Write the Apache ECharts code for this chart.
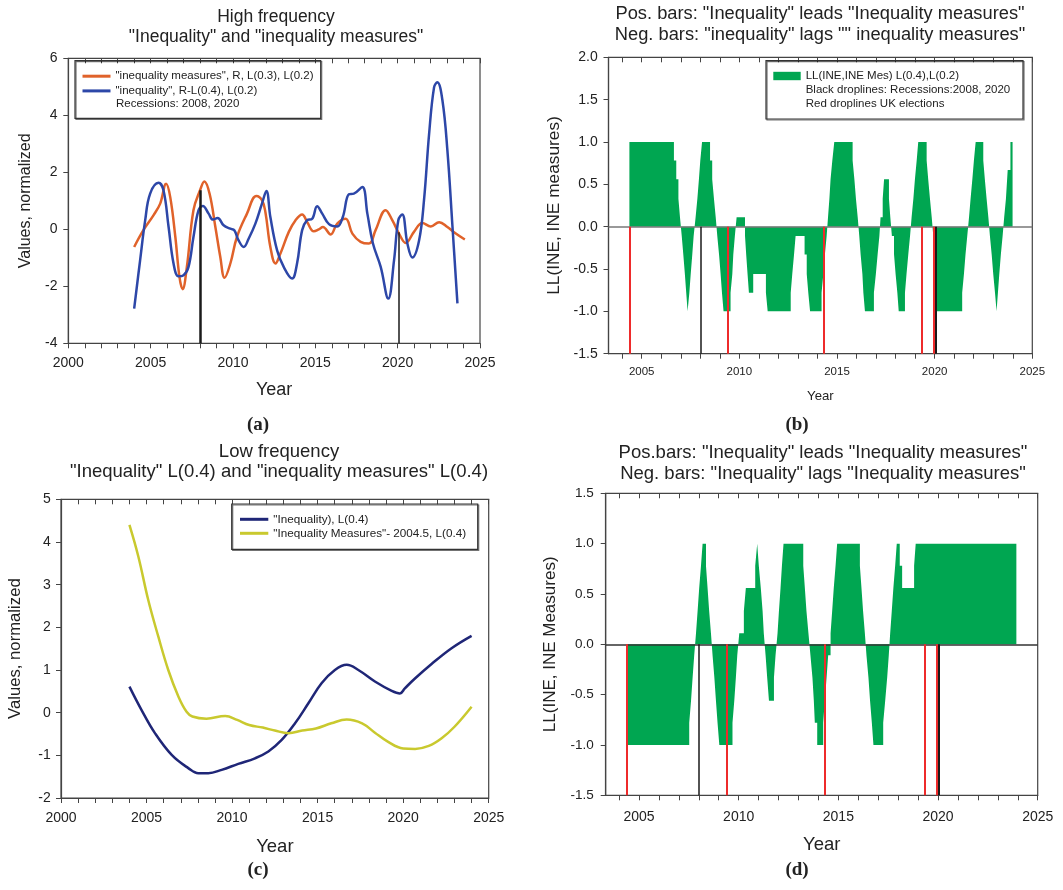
<!DOCTYPE html>
<html>
<head>
<meta charset="utf-8">
<script src="https://cdn.jsdelivr.net/npm/echarts@6/dist/echarts.min.js"></script>
<style>
  html, body { margin: 0; padding: 0; background: #fff; }
  #chart { width: 1063px; height: 890px; }
</style>
</head>
<body>
<div id="chart"></div>
<script>
// ---------------- data ----------------
// (a) high-frequency components, [year, normalized value]
const hfMeasures = [
  [2004.0, -0.62], [2004.56, -0.03], [2005.17, 0.49], [2005.58, 0.9], [2005.94, 1.6],
  [2006.19, 1.13], [2006.5, -0.27], [2006.75, -1.67], [2006.94, -2.1], [2007.2, -1.32],
  [2007.6, 0.67], [2008.0, 1.37], [2008.26, 1.68], [2008.58, 1.25], [2008.93, 0.08],
  [2009.23, -0.97], [2009.49, -1.7], [2009.84, -1.2], [2010.24, -0.27], [2010.85, 0.55],
  [2011.42, 1.17], [2011.76, 1.02], [2011.97, 0.6], [2012.27, -0.62], [2012.58, -1.2],
  [2012.88, -0.85], [2013.39, -0.09], [2013.79, 0.31], [2014.2, 0.52], [2014.5, 0.26],
  [2014.91, -0.07], [2015.21, 0.0], [2015.46, 0.08], [2015.93, -0.18], [2016.33, 0.2],
  [2016.84, 0.37], [2017.25, -0.15], [2017.75, -0.44], [2018.26, -0.5], [2018.66, -0.03],
  [2019.27, 0.67], [2019.68, 0.31], [2020.08, -0.15], [2020.49, -0.48], [2020.99, -0.09],
  [2021.5, 0.22], [2022.01, 0.1], [2022.52, 0.25], [2023.02, 0.08], [2023.53, -0.15],
  [2024.08, -0.36]
];
const hfInequality = [
  [2004.0, -2.78], [2004.36, -1.09], [2004.67, 0.32], [2004.97, 1.25], [2005.48, 1.63],
  [2005.78, 1.37], [2006.09, 0.08], [2006.39, -1.2], [2006.69, -1.65], [2007.0, -1.61],
  [2007.3, -1.32], [2007.6, -0.27], [2007.91, 0.67], [2008.17, 0.82], [2008.52, 0.55],
  [2008.78, 0.34], [2009.07, 0.4], [2009.43, 0.14], [2009.84, 0.02], [2010.08, -0.03],
  [2010.34, -0.39], [2010.65, -0.62], [2010.95, -0.33], [2011.36, 0.2], [2011.76, 0.9],
  [2012.03, 1.34], [2012.27, 0.43], [2012.68, -0.74], [2013.08, -1.32], [2013.59, -1.73],
  [2013.89, -1.2], [2014.2, -0.03], [2014.5, 0.32], [2014.81, 0.37], [2015.11, 0.81],
  [2015.42, 0.55], [2015.83, 0.18], [2016.33, 0.1], [2016.67, 0.43], [2017.04, 1.23],
  [2017.34, 1.25], [2017.85, 1.48], [2018.16, 0.55], [2018.5, -0.5], [2018.97, -1.32],
  [2019.43, -2.43], [2019.78, -1.09], [2020.04, 0.32], [2020.28, 0.52], [2020.59, -0.5],
  [2020.89, -0.99], [2021.3, -0.39], [2021.6, 1.02], [2021.91, 3.35], [2022.21, 4.98],
  [2022.41, 5.16], [2022.72, 4.52], [2023.02, 2.77], [2023.33, 0.08], [2023.63, -2.6]
];
// recession droplines; in (a) they rise to the "inequality measures" curve
const recessions = [2008.0, 2020.06];
const recessionTopsHF = [1.37, -0.1];
const ukElections = [2004.38, 2009.4, 2014.3, 2019.32, 2019.94];

// (b) lead-lag indicator, high frequency: [start year, value] held until next entry
const llHigh = [
  [2004.37, 1.0], [2006.65, 0.78], [2006.77, 0.56], [2006.88, 0.33], [2006.96, 0.11],
  [2007.05, -0.11], [2007.13, -0.33], [2007.21, -0.56], [2007.28, -0.78], [2007.35, -1.0],
  [2007.44, -0.78], [2007.51, -0.56], [2007.59, -0.33], [2007.66, -0.11],
  [2007.76, 0.11], [2007.85, 0.33], [2007.93, 0.56], [2008.0, 0.78], [2008.09, 1.0],
  [2008.5, 0.78], [2008.61, 0.56], [2008.7, 0.33], [2008.79, 0.11],
  [2008.87, -0.11], [2008.96, -0.33], [2009.04, -0.56], [2009.11, -0.78], [2009.19, -1.0],
  [2009.55, -0.78], [2009.64, -0.56], [2009.69, -0.33], [2009.77, -0.11],
  [2009.86, 0.11],
  [2010.29, -0.11], [2010.35, -0.33], [2010.42, -0.56], [2010.49, -0.78], [2010.71, -0.56],
  [2011.36, -0.78], [2011.45, -1.0], [2012.63, -0.78], [2012.71, -0.56], [2012.8, -0.33],
  [2012.88, -0.11],
  [2013.34, -0.33], [2013.45, -0.56], [2013.53, -0.78], [2013.62, -1.0],
  [2014.21, -0.78], [2014.3, -0.56], [2014.38, -0.33], [2014.47, -0.11],
  [2014.54, 0.11], [2014.61, 0.33], [2014.67, 0.56], [2014.76, 0.78], [2014.86, 1.0],
  [2015.8, 0.78], [2015.89, 0.56], [2015.97, 0.33], [2016.06, 0.11],
  [2016.14, -0.11], [2016.21, -0.33], [2016.3, -0.56], [2016.35, -0.78], [2016.43, -1.0],
  [2016.89, -0.78], [2016.99, -0.56], [2017.08, -0.33], [2017.17, -0.11],
  [2017.23, 0.11], [2017.34, 0.33], [2017.41, 0.56], [2017.66, 0.33], [2017.73, 0.11],
  [2017.81, -0.11], [2017.92, -0.33], [2018.0, -0.56], [2018.09, -0.78], [2018.16, -1.0],
  [2018.48, -0.78], [2018.56, -0.56], [2018.65, -0.33], [2018.74, -0.11],
  [2018.82, 0.11], [2018.91, 0.33], [2018.99, 0.56], [2019.08, 0.78], [2019.16, 1.0],
  [2019.59, 0.78], [2019.67, 0.56], [2019.76, 0.33], [2019.85, 0.11],
  [2019.93, -0.11], [2020.08, -1.0],
  [2021.41, -0.78], [2021.5, -0.56], [2021.58, -0.33], [2021.67, -0.11],
  [2021.76, 0.11], [2021.84, 0.33], [2021.93, 0.56], [2022.01, 0.78], [2022.1, 1.0],
  [2022.49, 0.78], [2022.57, 0.56], [2022.66, 0.33], [2022.75, 0.11],
  [2022.83, -0.11], [2022.92, -0.33], [2023.0, -0.56], [2023.09, -0.78], [2023.17, -1.0],
  [2023.24, -0.78], [2023.31, -0.56], [2023.39, -0.33], [2023.48, -0.11],
  [2023.56, 0.11], [2023.65, 0.33], [2023.74, 0.67], [2023.88, 1.0], [2023.99, 1.0]
];

// (c) low-frequency components
const lfInequality = [
  [2004.0, 0.61], [2004.71, 0.06], [2005.49, -0.48], [2006.47, -0.99], [2007.44, -1.3],
  [2008.03, -1.42], [2008.61, -1.42], [2009.39, -1.34], [2010.36, -1.2], [2011.34, -1.07],
  [2012.12, -0.91], [2012.9, -0.64], [2013.68, -0.25], [2014.46, 0.22], [2015.23, 0.69],
  [2016.01, 1.0], [2016.7, 1.12], [2017.38, 1.0], [2018.35, 0.73], [2019.33, 0.51],
  [2019.81, 0.45], [2020.1, 0.57], [2020.69, 0.8], [2021.66, 1.14], [2022.83, 1.51],
  [2024.0, 1.8]
];
const lfMeasures = [
  [2004.0, 4.4], [2004.52, 3.66], [2005.1, 2.64], [2005.69, 1.78], [2006.27, 1.0],
  [2006.86, 0.38], [2007.34, 0.02], [2007.68, -0.09], [2008.5, -0.14], [2009.6, -0.08],
  [2010.3, -0.17], [2011.0, -0.29], [2011.8, -0.35], [2012.5, -0.42], [2013.3, -0.48],
  [2014.1, -0.42], [2014.9, -0.37], [2015.8, -0.25], [2016.7, -0.16], [2017.6, -0.25],
  [2018.35, -0.47], [2019.1, -0.68], [2020.0, -0.84], [2020.7, -0.85], [2021.5, -0.78],
  [2022.25, -0.6], [2023.0, -0.33], [2024.0, 0.14]
];

// (d) lead-lag indicator, low frequency
const llLow = [
  [2004.41, -1.0], [2007.52, -0.78], [2007.61, -0.56], [2007.69, -0.33], [2007.77, -0.11],
  [2007.86, 0.11], [2007.94, 0.33], [2008.02, 0.56], [2008.11, 0.78], [2008.19, 1.0],
  [2008.36, 0.78], [2008.44, 0.56], [2008.52, 0.33], [2008.61, 0.11],
  [2008.69, -0.11], [2008.78, -0.33], [2008.86, -0.56], [2008.94, -0.78], [2009.03, -1.0],
  [2009.69, -0.78], [2009.78, -0.56], [2009.86, -0.33], [2009.93, -0.11],
  [2010.03, 0.11], [2010.26, 0.33], [2010.36, 0.56], [2010.83, 0.78], [2010.93, 1.0],
  [2011.01, 0.78], [2011.11, 0.56], [2011.2, 0.33], [2011.26, 0.11],
  [2011.35, -0.11], [2011.43, -0.33], [2011.52, -0.56], [2011.77, -0.33], [2011.85, -0.11],
  [2011.95, 0.11], [2012.02, 0.33], [2012.1, 0.56], [2012.17, 0.78], [2012.25, 1.0],
  [2013.24, 0.78], [2013.32, 0.56], [2013.4, 0.33], [2013.5, 0.11],
  [2013.6, -0.11], [2013.7, -0.33], [2013.77, -0.56], [2013.82, -0.78], [2013.94, -1.0],
  [2014.24, -0.78], [2014.32, -0.56], [2014.41, -0.33], [2014.49, -0.11],
  [2014.61, 0.11], [2014.69, 0.33], [2014.77, 0.56], [2014.86, 0.78], [2014.94, 1.0],
  [2016.08, 0.78], [2016.16, 0.56], [2016.24, 0.33], [2016.33, 0.11],
  [2016.41, -0.11], [2016.51, -0.33], [2016.59, -0.56], [2016.68, -0.78], [2016.76, -1.0],
  [2017.25, -0.78], [2017.35, -0.56], [2017.45, -0.33], [2017.53, -0.11],
  [2017.6, 0.11], [2017.68, 0.33], [2017.76, 0.56], [2017.85, 0.78], [2017.93, 1.0],
  [2018.08, 0.78], [2018.2, 0.56], [2018.8, 0.78], [2018.88, 1.0], [2023.93, 1.0]
];

// axis ticks and labels
const yearTicksFull = [2000, 2001, 2002, 2003, 2004, 2005, 2006, 2007, 2008, 2009, 2010, 2011, 2012,
  2013, 2014, 2015, 2016, 2017, 2018, 2019, 2020, 2021, 2022, 2023, 2024, 2025];
const yearTicksLL = [2004, 2005, 2006, 2007, 2008, 2009, 2010, 2011, 2012, 2013, 2014, 2015, 2016,
  2017, 2018, 2019, 2020, 2021, 2022, 2023, 2024, 2025];
const yearLabelsFull = [2000, 2005, 2010, 2015, 2020, 2025];
const yearLabelsLL = [2005, 2010, 2015, 2020, 2025];

// series names (legend entries)
const nameHfMeasures = '"inequality measures", R, L(0.3), L(0.2)';
const nameHfInequality = '"inequality", R-L(0.4), L(0.2)';
const nameLLHigh = 'LL(INE,INE Mes) L(0.4),L(0.2)';
const nameLfInequality = '"Inequality), L(0.4)';
const nameLfMeasures = '"Inequality Measures"- 2004.5, L(0.4)';
const nameLLLow = 'LL(INE, INE Measures)';

// ---------------- styling ----------------
const COL = {
  orange: '#e0622a', blue: '#2d47a8', navy: '#1f2677', olive: '#c9c92e',
  green: '#00a651', red: '#ee2b2b', black: '#1a1a1a', text: '#222', axis: '#444'
};
const FONT = '"Liberation Sans", Arial, Helvetica, sans-serif';
const SERIF = '"Liberation Serif", "DejaVu Serif", "Times New Roman", serif';

const grids = [
  { left: 68.3, top: 58.3, width: 411.7, height: 285 },     // a
  { left: 608.5, top: 57.3, width: 423.8, height: 296.4 },  // b
  { left: 61, top: 499.3, width: 427.7, height: 298.7 },    // c
  { left: 605.7, top: 493.3, width: 432, height: 302 }      // d
].map(g => Object.assign({ show: true, borderColor: COL.axis, borderWidth: 1.2, backgroundColor: 'transparent' }, g));

function xBottom(gi, min, max, ticks, labels, fs, margin, nameFs, nameGap) {
  return {
    type: 'value', gridIndex: gi, position: 'bottom', min: min, max: max,
    name: 'Year', nameLocation: 'middle', nameGap: nameGap,
    nameTextStyle: { fontSize: nameFs, color: COL.text, fontFamily: FONT },
    axisLine: { show: true, onZero: false, lineStyle: { color: COL.axis, width: 1.2 } },
    axisTick: { show: true, inside: false, length: 5, customValues: ticks, lineStyle: { color: COL.axis, width: 1 } },
    axisLabel: { show: true, customValues: labels, margin: margin, fontSize: fs, color: COL.text, fontFamily: FONT,
      formatter: v => String(Math.round(v)) },
    splitLine: { show: false }
  };
}
function xTop(gi, min, max, ticks) {
  return {
    type: 'value', gridIndex: gi, position: 'top', min: min, max: max,
    axisLine: { show: true, onZero: false, lineStyle: { color: COL.axis, width: 1.2 } },
    axisTick: { show: true, inside: true, length: 5, customValues: ticks, lineStyle: { color: COL.axis, width: 1 } },
    axisLabel: { show: false },
    splitLine: { show: false }
  };
}
function yLeft(gi, min, max, interval, fs, margin, decimals, name, nameFs, nameGap) {
  return {
    type: 'value', gridIndex: gi, position: 'left', min: min, max: max, interval: interval,
    name: name, nameLocation: 'middle', nameRotate: 90, nameGap: nameGap,
    nameTextStyle: { fontSize: nameFs, color: COL.text, fontFamily: FONT },
    axisLine: { show: true, onZero: false, lineStyle: { color: COL.axis, width: 1.2 } },
    axisTick: { show: true, inside: false, length: 5, lineStyle: { color: COL.axis, width: 1 } },
    axisLabel: { margin: margin, fontSize: fs, color: COL.text, fontFamily: FONT,
      formatter: v => v.toFixed(decimals) },
    splitLine: { show: false }
  };
}

function dropPairs(xs, y0, tops, color, widths) {
  return xs.map((x, i) => [
    { coord: [x, y0], lineStyle: { color: color, width: widths[i] !== undefined ? widths[i] : widths[0], type: 'solid' } },
    { coord: [x, Array.isArray(tops) ? tops[i] : tops] }
  ]);
}

function stepSeries(name, data, xi, yi, yBottom, zeroColor) {
  return {
    name: name, type: 'line', step: 'end', data: data, xAxisIndex: xi, yAxisIndex: yi,
    symbol: 'none', showSymbol: false,
    lineStyle: { width: 0, color: COL.green },
    itemStyle: { color: COL.green },
    areaStyle: { color: COL.green, opacity: 1, origin: 0 },
    z: 2,
    markLine: {
      silent: true, animation: false, symbol: ['none', 'none'], label: { show: false },
      data: [{ yAxis: 0, lineStyle: { color: zeroColor, width: 1.6, type: 'solid' } }]
        .concat(dropPairs(ukElections, yBottom, 0, COL.red, [2]))
        .concat(dropPairs(recessions, yBottom, 0, COL.black, [1.5, 2]))
    }
  };
}

const titleStyle = (fs, lh) => ({ fontSize: fs, lineHeight: lh, fontWeight: 'normal', color: COL.text, fontFamily: FONT });
const frameStyle = { fill: 'none', stroke: '#333', lineWidth: 1.2, shadowColor: 'rgba(0,0,0,0.55)', shadowOffsetX: 1, shadowOffsetY: 1, shadowBlur: 0 };

const option = {
  animation: false,
  backgroundColor: '#fff',
  textStyle: { fontFamily: FONT },
  title: [
    { text: 'High frequency\n"Inequality" and "inequality measures"', left: 276, top: 6.7,
      textAlign: 'center', padding: 0, textStyle: titleStyle(17.5, 20) },
    { text: 'Pos. bars: "Inequality" leads "Inequality measures"\nNeg. bars: "inequality" lags "" inequality measures"',
      left: 820, top: 3, textAlign: 'center', padding: 0, textStyle: titleStyle(18.3, 21) },
    { text: 'Low frequency\n"Inequality" L(0.4) and "inequality measures" L(0.4)', left: 279, top: 441.5,
      textAlign: 'center', padding: 0, textStyle: titleStyle(18.5, 20.6) },
    { text: 'Pos.bars: "Inequality" leads "Inequality measures"\nNeg. bars: "Inequality" lags "Inequality measures"',
      left: 823, top: 442.8, textAlign: 'center', padding: 0, textStyle: titleStyle(18.5, 21) }
  ],
  legend: [
    { data: [nameHfMeasures, nameHfInequality], orient: 'vertical', left: 82.5, top: 69,
      itemWidth: 28, itemHeight: 3, itemGap: 0.3, icon: 'rect', padding: 0, selectedMode: false,
      textStyle: { fontSize: 11.5, lineHeight: 14.4, color: COL.text, fontFamily: FONT } },
    { data: [nameLLHigh], orient: 'vertical', left: 773.3, top: 69,
      itemWidth: 27.4, itemHeight: 8.4, itemGap: 0, icon: 'rect', padding: 0, selectedMode: false,
      textStyle: { fontSize: 11.5, lineHeight: 14, color: COL.text, fontFamily: FONT } },
    { data: [nameLfInequality, nameLfMeasures], orient: 'vertical', left: 240, top: 512.3,
      itemWidth: 28.3, itemHeight: 3, itemGap: 0, icon: 'rect', padding: 0, selectedMode: false,
      textStyle: { fontSize: 11.7, lineHeight: 14, color: COL.text, fontFamily: FONT } }
  ],
  grid: grids,
  xAxis: [
    xBottom(0, 2000, 2025, yearTicksFull, yearLabelsFull, 14, 13, 18, 37.7),
    xBottom(1, 2003.3, 2025, yearTicksLL, yearLabelsLL, 11.5, 12.2, 13.2, 36.4),
    xBottom(2, 2000, 2025, yearTicksFull, yearLabelsFull, 14, 13.3, 18.5, 39.5),
    xBottom(3, 2003.33, 2025, yearTicksLL, yearLabelsLL, 14, 14.4, 18.5, 40.5),
    xTop(0, 2000, 2025, yearTicksFull),
    xTop(1, 2003.3, 2025, yearTicksLL),
    xTop(2, 2000, 2025, yearTicksFull),
    xTop(3, 2003.33, 2025, yearTicksLL)
  ],
  yAxis: [
    yLeft(0, -4, 6, 2, 14, 10.8, 0, 'Values, normalized', 16, 34.9),
    yLeft(1, -1.5, 2, 0.5, 14, 10.8, 1, 'LL(INE, INE measures)', 17.3, 46.2),
    yLeft(2, -2, 5, 1, 14, 10.2, 0, 'Values, normalized', 16.7, 37.5),
    yLeft(3, -1.5, 1.5, 0.5, 13.5, 12, 1, 'LL(INE, INE Measures)', 17, 46.9)
  ],
  series: [
    // (a)
    { name: nameHfMeasures, type: 'line', data: hfMeasures, xAxisIndex: 0, yAxisIndex: 0,
      smooth: 0.4, symbol: 'none', lineStyle: { width: 2.5, color: COL.orange }, itemStyle: { color: COL.orange },
      markLine: { silent: true, animation: false, symbol: ['none', 'none'], label: { show: false }, z: 5,
        data: dropPairs(recessions, -4, recessionTopsHF, COL.black, [2.5, 1.5]) } },
    { name: nameHfInequality, type: 'line', data: hfInequality, xAxisIndex: 0, yAxisIndex: 0,
      smooth: 0.4, symbol: 'none', lineStyle: { width: 2.5, color: COL.blue }, itemStyle: { color: COL.blue } },
    // (b)
    stepSeries(nameLLHigh, llHigh, 1, 1, -1.5, '#777'),
    // (c)
    { name: nameLfInequality, type: 'line', data: lfInequality, xAxisIndex: 2, yAxisIndex: 2,
      smooth: 0.4, symbol: 'none', lineStyle: { width: 2.5, color: COL.navy }, itemStyle: { color: COL.navy } },
    { name: nameLfMeasures, type: 'line', data: lfMeasures, xAxisIndex: 2, yAxisIndex: 2,
      smooth: 0.4, symbol: 'none', lineStyle: { width: 2.5, color: COL.olive }, itemStyle: { color: COL.olive } },
    // (d)
    stepSeries(nameLLLow, llLow, 3, 3, -1.5, '#333')
  ],
  graphic: { elements: [
    // legend frames and extra legend lines
    { type: 'rect', shape: { x: 75, y: 60.7, width: 245.7, height: 57.6 }, style: frameStyle, z: 10 },
    { type: 'text', x: 116, y: 103.5, z: 10, style: { text: 'Recessions: 2008, 2020', font: '11.5px ' + FONT, fill: COL.text,
      align: 'left', verticalAlign: 'middle', textAlign: 'left', textVerticalAlign: 'middle' } },
    { type: 'rect', shape: { x: 766, y: 60.7, width: 257, height: 58.3 }, style: frameStyle, z: 10 },
    { type: 'text', x: 805.7, y: 90, z: 10, style: { text: 'Black droplines: Recessions:2008, 2020', font: '11.5px ' + FONT, fill: COL.text,
      align: 'left', verticalAlign: 'middle', textAlign: 'left', textVerticalAlign: 'middle' } },
    { type: 'text', x: 805.7, y: 104, z: 10, style: { text: 'Red droplines UK elections', font: '11.5px ' + FONT, fill: COL.text,
      align: 'left', verticalAlign: 'middle', textAlign: 'left', textVerticalAlign: 'middle' } },
    { type: 'rect', shape: { x: 231.7, y: 504, width: 246, height: 45.3 }, style: frameStyle, z: 10 },
    // panel letters
    { type: 'text', x: 258, y: 425, z: 10, style: { text: '(a)', font: 'bold 19px ' + SERIF, fill: COL.text,
      align: 'center', verticalAlign: 'middle', textAlign: 'center', textVerticalAlign: 'middle' } },
    { type: 'text', x: 797, y: 425, z: 10, style: { text: '(b)', font: 'bold 19px ' + SERIF, fill: COL.text,
      align: 'center', verticalAlign: 'middle', textAlign: 'center', textVerticalAlign: 'middle' } },
    { type: 'text', x: 258, y: 870, z: 10, style: { text: '(c)', font: 'bold 19px ' + SERIF, fill: COL.text,
      align: 'center', verticalAlign: 'middle', textAlign: 'center', textVerticalAlign: 'middle' } },
    { type: 'text', x: 797, y: 870, z: 10, style: { text: '(d)', font: 'bold 19px ' + SERIF, fill: COL.text,
      align: 'center', verticalAlign: 'middle', textAlign: 'center', textVerticalAlign: 'middle' } }
  ] }
};

const chart = echarts.init(document.getElementById('chart'), null, { renderer: 'canvas', width: 1063, height: 890 });
chart.setOption(option);
</script>
</body>
</html>
